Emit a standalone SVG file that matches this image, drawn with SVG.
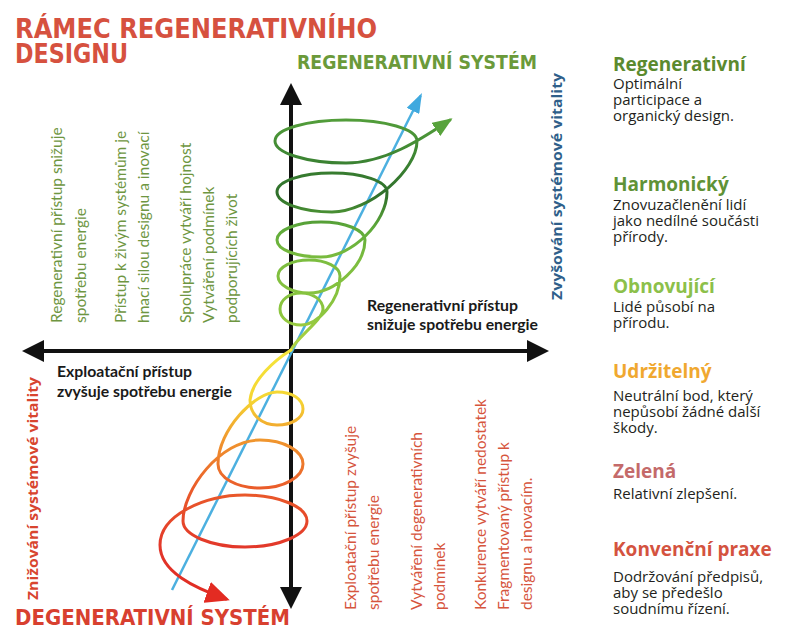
<svg xmlns="http://www.w3.org/2000/svg" width="787" height="630" viewBox="0 0 787 630">
<defs>
<style>
.ttl{font-family:'DejaVu Sans Condensed','Liberation Sans',sans-serif;font-weight:700}
.hd{font-family:'Open Sans',sans-serif;font-weight:700;font-size:19px}
.bd{font-family:'Open Sans',sans-serif;font-weight:500;font-size:15px;fill:#231f20}
.gv{font-family:Lato,'Open Sans',sans-serif;font-size:15.5px;fill:#6e9641}
.rv{font-family:Lato,'Open Sans',sans-serif;font-size:15.5px;fill:#d6553d}
.bk{font-family:Lato,'Open Sans',sans-serif;font-weight:700;font-size:14.5px;fill:#1a1a1a}
.vb{font-family:'Open Sans',sans-serif;font-weight:700;font-size:15px}
.ax{stroke:#111;stroke-width:4;fill:none}
.arh{fill:#111}
.sp{fill:none;stroke-width:3;stroke-linecap:round;stroke-linejoin:round}
</style>
<linearGradient id="gUp" gradientUnits="userSpaceOnUse" x1="0" y1="350" x2="0" y2="115">
<stop offset="0" stop-color="#b3d443"/>
<stop offset="0.15" stop-color="#8dc63f"/>
<stop offset="0.38" stop-color="#7cbd3f"/>
<stop offset="0.52" stop-color="#5eaa3a"/>
<stop offset="0.66" stop-color="#2f6f2b"/>
<stop offset="0.82" stop-color="#3d8533"/>
<stop offset="1" stop-color="#55a03b"/>
</linearGradient>
<linearGradient id="gDown" gradientUnits="userSpaceOnUse" x1="0" y1="350" x2="0" y2="600">
<stop offset="0" stop-color="#f4e53a"/>
<stop offset="0.2" stop-color="#f5d532"/>
<stop offset="0.36" stop-color="#f0962e"/>
<stop offset="0.55" stop-color="#ea5c2a"/>
<stop offset="0.8" stop-color="#e2362a"/>
<stop offset="1" stop-color="#e02a22"/>
</linearGradient>
<marker id="ahBlue" viewBox="0 0 20 14" refX="17" refY="7" markerWidth="20" markerHeight="14" markerUnits="userSpaceOnUse" orient="auto"><path d="M0,0 L20,7 L0,14 z" fill="#3fa9df"/></marker>
<marker id="ahGreen" viewBox="0 0 20 16" refX="17" refY="8" markerWidth="20" markerHeight="16" markerUnits="userSpaceOnUse" orient="auto"><path d="M0,0 L20,8 L0,16 z" fill="#58a33c"/></marker>
<marker id="ahRed" viewBox="0 0 24 22" refX="20" refY="11" markerWidth="24" markerHeight="22" markerUnits="userSpaceOnUse" orient="auto"><path d="M0,0 L24,11 L0,22 z" fill="#e32b22"/></marker>
</defs>
<rect width="787" height="630" fill="#ffffff"/>

<g id="connectors">
<line class="ax" x1="291" y1="102" x2="291" y2="590"/>
<polygon class="arh" points="291,83 280,105 302,105"/>
<polygon class="arh" points="291,609 280,587 302,587"/>
<line class="ax" x1="41" y1="351" x2="530" y2="351"/>
<polygon class="arh" points="22,351 44,340 44,362"/>
<polygon class="arh" points="549,351 527,340 527,362"/>
<line x1="172" y1="590" x2="420.6" y2="95.7" stroke="#4cb0e0" stroke-width="2.5" marker-end="url(#ahBlue)"/>
<path class="sp" stroke="url(#gUp)" marker-end="url(#ahGreen)" d="M291,350 C296,338 323,320 323,309 C323,300 313,293 301,293 C289,293 280,300 280,309 C280,318 289,325 301,325 C318,325 340,300 340,276 C340,267 326,260 309,260 C292,260 278,267 278,276 C278,285 292,293 309,293 C335,293 365,265 365,240 C365,230 345,222 321,222 C297,222 277,230 277,240 C277,250 297,257 321,257 C352,257 387,222 387,192 C387,181 362,173 332,173 C302,173 277,181 277,192 C277,203 302,212 332,212 C370,212 417,170 417,141 C417,129 385,120 346,120 C307,120 275,129 275,141 C275,153 307,163 346,163 C385,163 420,140 450,120"/>
<path class="sp" stroke="url(#gDown)" marker-end="url(#ahRed)" d="M291,350 C275,360 252,380 250,400 C250,415 262,425 277,425 C292,425 303,418 303,409 C303,399 292,392 277,392 C255,392 218,430 218,464 C218,478 237,488 260,488 C284,488 303,477 303,464 C303,451 284,440 260,440 C220,440 183,490 183,521 C183,535 211,547 245,547 C279,547 307,535 307,521 C307,507 279,495 245,495 C205,495 160,515 160,545 C160,572 195,588 226,599"/>
</g>

<g id="title">
<text class="ttl" x="15" y="38" font-size="27" fill="#d6513f" textLength="362" lengthAdjust="spacingAndGlyphs">RÁMEC REGENERATIVNÍHO</text>
<text class="ttl" x="15" y="63" font-size="27" fill="#d6513f" textLength="113" lengthAdjust="spacingAndGlyphs">DESIGNU</text>
</g>

<g id="regenerativni-system">
<text class="ttl" x="297" y="69" font-size="19.5" fill="#6b9a3a" textLength="240" lengthAdjust="spacingAndGlyphs">REGENERATIVNÍ SYSTÉM</text>
</g>

<g id="degenerativni-system">
<text class="ttl" x="15" y="625" font-size="21" fill="#d8402f" textLength="275" lengthAdjust="spacingAndGlyphs">DEGENERATIVNÍ SYSTÉM</text>
</g>

<g id="zvysovani">
<text class="vb" fill="#2f5f8a" transform="translate(562,300) rotate(-90)" textLength="227" lengthAdjust="spacingAndGlyphs">Zvyšování systémové vitality</text>
</g>

<g id="znizovani">
<text class="vb" fill="#d8452f" transform="translate(38,600) rotate(-90)" textLength="223" lengthAdjust="spacingAndGlyphs">Znižování systémové vitality</text>
</g>

<g id="regenerativni-pristup">
<text class="bk" x="367" y="311" textLength="151" lengthAdjust="spacingAndGlyphs">Regenerativní přístup</text>
<text class="bk" x="367" y="330" textLength="171" lengthAdjust="spacingAndGlyphs">snižuje spotřebu energie</text>
</g>

<g id="exploatacni-pristup">
<text class="bk" x="57" y="377" textLength="135" lengthAdjust="spacingAndGlyphs">Exploatační přístup</text>
<text class="bk" x="57" y="397" textLength="175" lengthAdjust="spacingAndGlyphs">zvyšuje spotřebu energie</text>
</g>

<g id="green-notes">
<text class="gv" transform="translate(62,323) rotate(-90)">Regenerativní přístup snižuje</text>
<text class="gv" transform="translate(86,323) rotate(-90)">spotřebu energie</text>
<text class="gv" transform="translate(126,323) rotate(-90)">Přístup k živým systémům je</text>
<text class="gv" transform="translate(149,323) rotate(-90)">hnací silou designu a inovací</text>
<text class="gv" transform="translate(191,323) rotate(-90)">Spolupráce vytváří hojnost</text>
<text class="gv" transform="translate(214,323) rotate(-90)">Vytváření podmínek</text>
<text class="gv" transform="translate(237,323) rotate(-90)">podporujících život</text>
</g>

<g id="red-notes">
<text class="rv" transform="translate(356,610) rotate(-90)">Exploatační přístup zvyšuje</text>
<text class="rv" transform="translate(379,610) rotate(-90)">spotřebu energie</text>
<text class="rv" transform="translate(422,610) rotate(-90)">Vytváření degenerativních</text>
<text class="rv" transform="translate(445,610) rotate(-90)">podmínek</text>
<text class="rv" transform="translate(486,610) rotate(-90)">Konkurence vytváří nedostatek</text>
<text class="rv" transform="translate(509,610) rotate(-90)">Fragmentovaný přístup k</text>
<text class="rv" transform="translate(532,610) rotate(-90)">designu a inovacím.</text>
</g>

<g id="legend-regenerativni">
<text class="hd" x="613" y="71" fill="#5b8a2e">Regenerativní</text>
<text class="bd" x="613" y="89">Optimální</text>
<text class="bd" x="613" y="105">participace a</text>
<text class="bd" x="613" y="121">organický design.</text>
</g>
<g id="legend-harmonicky">
<text class="hd" x="613" y="191" fill="#5f9236">Harmonický</text>
<text class="bd" x="613" y="210">Znovuzačlenění lidí</text>
<text class="bd" x="613" y="226">jako nedílné součásti</text>
<text class="bd" x="613" y="242">přírody.</text>
</g>
<g id="legend-obnovujici">
<text class="hd" x="613" y="293" fill="#8cc04a">Obnovující</text>
<text class="bd" x="613" y="312">Lidé působí na</text>
<text class="bd" x="613" y="328">přírodu.</text>
</g>
<g id="legend-udrzitelny">
<text class="hd" x="613" y="378" fill="#f0a830">Udržitelný</text>
<text class="bd" x="613" y="401">Neutrální bod, který</text>
<text class="bd" x="613" y="417">nepůsobí žádné další</text>
<text class="bd" x="613" y="433">škody.</text>
</g>
<g id="legend-zelena">
<text class="hd" x="613" y="478" fill="#c46a6a">Zelená</text>
<text class="bd" x="613" y="499">Relativní zlepšení.</text>
</g>
<g id="legend-konvencni">
<text class="hd" x="613" y="556" fill="#d4533f">Konvenční praxe</text>
<text class="bd" x="613" y="582">Dodržování předpisů,</text>
<text class="bd" x="613" y="598">aby se předešlo</text>
<text class="bd" x="613" y="614">soudnímu řízení.</text>
</g>
</svg>
